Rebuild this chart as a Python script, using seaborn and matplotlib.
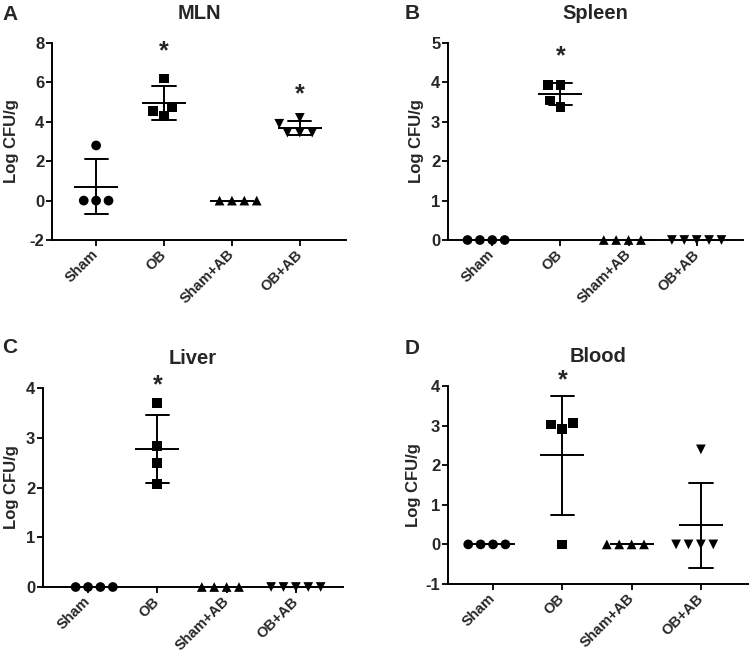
import pandas as pd
import numpy as np
import matplotlib
matplotlib.use('Agg')
import matplotlib.pyplot as plt
import seaborn as sns

# ---------- data ----------
groups = ['Sham', 'OB', 'Sham+AB', 'OB+AB']
group_markers = ['o', 's', '^', 'v']

mln_values = [[2.8, 0, 0, 0],
              [6.2, 4.75, 4.55, 4.3],
              [0, 0, 0, 0],
              [4.2, 3.45, 3.45, 3.45, 3.9]]
spleen_values = [[0, 0, 0, 0],
                 [3.93, 3.93, 3.54, 3.38],
                 [0, 0, 0, 0],
                 [0, 0, 0, 0, 0]]
liver_values = [[0, 0, 0, 0],
                [3.70, 2.83, 2.49, 2.07],
                [0, 0, 0, 0],
                [0, 0, 0, 0, 0]]
blood_values = [[0, 0, 0, 0],
                [3.03, 2.91, 3.06, 0],
                [0, 0, 0, 0],
                [2.4, 0, 0, 0, 0]]

panel_titles = ['MLN', 'Spleen', 'Liver', 'Blood']
panel_letters = ['A', 'B', 'C', 'D']
y_limits = [(-2, 8), (0, 5), (0, 4), (-1, 4)]
y_ticks = [[-2, 0, 2, 4, 6, 8], [0, 1, 2, 3, 4, 5], [0, 1, 2, 3, 4], [-1, 0, 1, 2, 3, 4]]

# significance stars: (group, y)
mln_stars = [('OB', 7.6), ('OB+AB', 5.4)]
spleen_stars = [('OB', 4.65)]
liver_stars = [('OB', 4.05)]
blood_stars = [('OB', 4.15)]

# ---------- style ----------
sns.set_theme(style='ticks')
plt.rcParams['font.family'] = ['Liberation Sans', 'DejaVu Sans']
plt.rcParams['font.weight'] = 'bold'
plt.rcParams['axes.labelweight'] = 'bold'
plt.rcParams['axes.titleweight'] = 'bold'
plt.rcParams['axes.unicode_minus'] = False

W, H = 750, 657
fig = plt.figure(figsize=(W / 100, H / 100), dpi=100)

# axes boxes in pixels: left, top, right, bottom
boxes = [(52, 43, 346, 240), (448, 43, 743, 240),
         (43, 388, 343, 587), (448, 386, 748, 584)]
letter_pos = [(2, 5), (405, 4), (2, 338), (405, 339)]
ylabel_x = [-0.112, -0.08, -0.079, -0.089]

all_values = [mln_values, spleen_values, liver_values, blood_values]
all_stars = [mln_stars, spleen_stars, liver_stars, blood_stars]


def to_long(values):
    rows = []
    for g, vals in zip(groups, values):
        for v in vals:
            rows.append({'group': g, 'value': v})
    return pd.DataFrame(rows)


for i in range(4):
    l, t, r, b = boxes[i]
    ax = fig.add_axes([l / W, 1 - b / H, (r - l) / W, (b - t) / H])
    df = to_long(all_values[i])

    # individual points, one marker shape per group
    for g, m in zip(groups, group_markers):
        sns.swarmplot(data=df[df.group == g], x='group', y='value', order=groups,
                      marker=m, color='black', size=7, linewidth=1.5,
                      edgecolor='none', ax=ax)

    # mean +/- SD
    sns.pointplot(data=df, x='group', y='value', order=groups,
                  estimator='mean', errorbar='sd', color='black',
                  markers='_', linestyle='none', markersize=32,
                  markeredgewidth=1.4, capsize=0.34,
                  err_kws={'linewidth': 1.4}, ax=ax)

    for art in ax.collections:
        if len(art.get_offsets()) > 0:
            art.set_clip_on(False)
    for art in ax.lines:
        if len(art.get_xdata()) > 0:
            art.set_clip_on(False)

    for g, y in all_stars[i]:
        ax.text(groups.index(g), y, '*', ha='center', va='center',
                fontsize=18, fontweight='bold')

    ax.set_xlim(-0.65, 3.68)
    ax.set_ylim(*y_limits[i])
    ax.set_yticks(y_ticks[i])
    ax.set_xlabel('')
    ax.set_ylabel('Log CFU/g', fontsize=12)
    ax.yaxis.set_label_coords(ylabel_x[i], 0.5)
    ax.set_title(panel_titles[i], fontsize=14.5, pad=17)

    sns.despine(ax=ax)
    for s in ['left', 'bottom']:
        ax.spines[s].set_linewidth(1.4)
        ax.spines[s].set_color('black')
    ax.tick_params(axis='both', width=1.3, length=4, color='black',
                   labelsize=12, pad=1.5)
    ax.set_xticks(range(len(groups)))
    ax.set_xticklabels(groups, rotation=45, ha='right', va='center',
                       rotation_mode='anchor', fontweight='bold', fontsize=10.5)
    ax.tick_params(axis='x', pad=5)
    for lab in ax.get_yticklabels():
        lab.set_fontweight('bold')

    fig.text(letter_pos[i][0] / W, 1 - letter_pos[i][1] / H, panel_letters[i],
             fontsize=15, fontweight='bold', ha='left', va='top')

fig.savefig('out.png', dpi=100)
